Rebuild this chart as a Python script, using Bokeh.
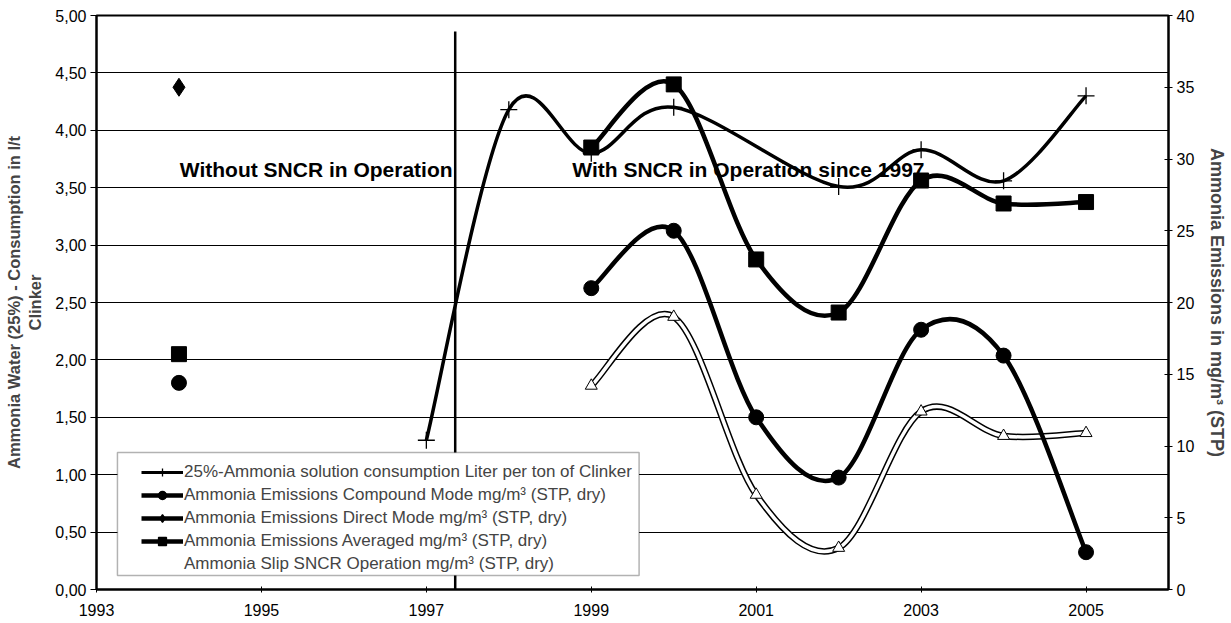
from bokeh.plotting import figure
from bokeh.models import (Range1d, LinearAxis, FixedTicker, CustomJSTickFormatter,
                          Legend, LegendItem, Label, BoxAnnotation)
from bokeh.models import ColumnDataSource
from bokeh.embed import file_html
from bokeh.resources import INLINE

# ---------------- data ----------------
years_cons = [1997, 1998, 1999, 2000, 2002, 2003, 2004, 2005]
consumption = [1.30, 4.18, 3.80, 4.20, 3.51, 3.83, 3.56, 4.30]   # l/t clinker (left axis)

years_em = [1999, 2000, 2001, 2002, 2003, 2004, 2005]
compound = [21.0, 25.0, 12.0, 7.8, 18.1, 16.3, 2.6]      # mg/m3 (right axis)
averaged = [30.8, 35.2, 23.0, 19.3, 28.5, 26.9, 27.0]
slip = [14.2, 19.0, 6.6, 2.9, 12.4, 10.7, 10.9]

years_1994 = [1994]
compound_1994 = [14.4]
direct_1994 = [35.0]
averaged_1994 = [16.4]

sncr_start = 1997.35
sncr_line_top = 4.86

left_ticks = [0, 0.5, 1, 1.5, 2, 2.5, 3, 3.5, 4, 4.5, 5]
right_ticks = [0, 5, 10, 15, 20, 25, 30, 35, 40]
x_ticks = [1993, 1995, 1997, 1999, 2001, 2003, 2005]

FONT = "Liberation Sans"


def bezier_source(xs, ys):
    """Excel-like smoothing: cubic Bezier segments with Catmull-Rom control points."""
    n = len(xs)
    d = dict(x0=[], y0=[], x1=[], y1=[], cx0=[], cy0=[], cx1=[], cy1=[])
    for i in range(n - 1):
        xp, yp = (xs[i - 1], ys[i - 1]) if i > 0 else (xs[i], ys[i])
        xn, yn = (xs[i + 2], ys[i + 2]) if i + 2 < n else (xs[i + 1], ys[i + 1])
        d["x0"].append(xs[i]); d["y0"].append(ys[i])
        d["x1"].append(xs[i + 1]); d["y1"].append(ys[i + 1])
        d["cx0"].append(xs[i] + (xs[i + 1] - xp) / 6.0)
        d["cy0"].append(ys[i] + (ys[i + 1] - yp) / 6.0)
        d["cx1"].append(xs[i + 1] - (xn - xs[i]) / 6.0)
        d["cy1"].append(ys[i + 1] - (yn - ys[i]) / 6.0)
    return ColumnDataSource(d)


BZ = ("x0", "y0", "x1", "y1", "cx0", "cy0", "cx1", "cy1")

p = figure(width=1230, height=622, x_range=Range1d(1993, 2006), y_range=Range1d(0, 5),
           output_backend="svg", toolbar_location=None,
           min_border_left=96, min_border_right=59, min_border_top=15, min_border_bottom=33)
p.extra_y_ranges = {"right": Range1d(0, 40)}

p.background_fill_color = "white"
p.border_fill_color = "white"
p.outline_line_color = "black"
p.outline_line_width = 2

# grid
p.xgrid.visible = False
p.ygrid.ticker = FixedTicker(ticks=left_ticks)
p.ygrid.grid_line_color = "black"
p.ygrid.grid_line_width = 1.2

# x axis
xa = p.xaxis[0]
xa.ticker = FixedTicker(ticks=x_ticks)
xa.axis_line_width = 2
xa.major_tick_in = 3
xa.major_tick_out = 3
xa.minor_tick_line_color = None
xa.major_label_standoff = 11
xa.major_label_text_font = FONT
xa.major_label_text_font_size = "16px"
xa.major_label_text_color = "black"

# left axis
ya = p.yaxis[0]
ya.ticker = FixedTicker(ticks=left_ticks)
ya.formatter = CustomJSTickFormatter(code="return tick.toFixed(2).replace('.', ',');")
ya.axis_line_width = 2
ya.major_tick_in = 0
ya.major_tick_out = 6
ya.minor_tick_line_color = None
ya.major_label_standoff = 4
ya.major_label_text_font = FONT
ya.major_label_text_font_size = "16px"
ya.major_label_text_color = "black"
ya.axis_label = "Ammonia Water (25%) - Consumption in l/t\nClinker"
ya.axis_label_text_font = FONT
ya.axis_label_text_font_style = "bold"
ya.axis_label_text_font_size = "16.5px"
ya.axis_label_standoff = 8

# right axis
ra = LinearAxis(y_range_name="right", ticker=FixedTicker(ticks=right_ticks))
ra.axis_line_width = 2
ra.major_tick_in = 4
ra.major_tick_out = 4
ra.minor_tick_line_color = None
ra.major_label_standoff = 4
ra.major_label_text_font = FONT
ra.major_label_text_font_size = "16px"
ra.major_label_text_color = "black"
ra.axis_label = "Ammonia Emissions in mg/m³ (STP)"
ra.axis_label_text_font = FONT
ra.axis_label_text_font_style = "bold"
ra.axis_label_text_font_size = "18px"
ra.axis_label_standoff = 10
p.add_layout(ra, "right")

# SNCR start line
p.segment(x0=[sncr_start], y0=[0], x1=[sncr_start], y1=[sncr_line_top],
          line_color="black", line_width=2.5)

# Ammonia slip (white double line)
s_slip = bezier_source(years_em, slip)
p.bezier(*BZ, source=s_slip, y_range_name="right", line_color="black", line_width=6.5)
p.bezier(*BZ, source=s_slip, y_range_name="right", line_color="white", line_width=3.5)
p.scatter(years_em, slip, y_range_name="right", marker="triangle", size=12,
          fill_color="white", line_color="black", line_width=1)

# Compound mode
p.bezier(*BZ, source=bezier_source(years_em, compound), y_range_name="right",
         line_color="black", line_width=4.5)
p.scatter(years_em, compound, y_range_name="right", marker="circle", size=15,
          fill_color="black", line_color="black")
p.scatter(years_1994, compound_1994, y_range_name="right", marker="circle", size=15,
          fill_color="black", line_color="black")

# Direct mode
p.scatter(years_1994, direct_1994, y_range_name="right", marker="diamond", size=18,
          fill_color="black", line_color="black")

# Averaged
p.bezier(*BZ, source=bezier_source(years_em, averaged), y_range_name="right",
         line_color="black", line_width=4.5)
p.scatter(years_em, averaged, y_range_name="right", marker="square", size=15,
          fill_color="black", line_color="black")
p.scatter(years_1994, averaged_1994, y_range_name="right", marker="square", size=15,
          fill_color="black", line_color="black")

# Consumption
p.bezier(*BZ, source=bezier_source(years_cons, consumption),
         line_color="black", line_width=3.5)
p.scatter(years_cons, consumption, marker="cross", size=17,
          line_color="black", line_width=1.3)

# annotations
for txt, x in [("Without SNCR in Operation", 1994.01),
               ("With SNCR in Operation since 1997", 1998.77)]:
    p.add_layout(Label(x=x, y=3.66, text=txt, text_font=FONT, text_font_style="bold",
                       text_font_size="21px", text_baseline="middle", text_color="black"))

# legend frame (white box with border)
p.add_layout(BoxAnnotation(left=1993.254, right=1999.58, top=1.193, bottom=0.122,
                           fill_color="white", fill_alpha=1.0,
                           line_color="black", line_width=1.5))


# legend samples: renderers kept outside the visible ranges
def sample(width, marker, color="black"):
    src = ColumnDataSource(dict(x=[1980, 1981], y=[-5, -5]))
    r = [p.line("x", "y", source=src, line_color=color, line_width=width)]
    if marker:
        r.append(p.scatter("x", "y", source=src, marker=marker,
                           fill_color="black", line_color="black", line_width=1.3))
    return r


items = [
    LegendItem(label="25%-Ammonia solution consumption Liter per ton of Clinker",
               renderers=sample(3, "cross")),
    LegendItem(label="Ammonia Emissions Compound Mode mg/m³ (STP, dry)",
               renderers=sample(4.5, "circle")),
    LegendItem(label="Ammonia Emissions Direct Mode mg/m³ (STP, dry)",
               renderers=sample(4.5, "diamond")),
    LegendItem(label="Ammonia Emissions Averaged mg/m³ (STP, dry)",
               renderers=sample(4.5, "square")),
    LegendItem(label="Ammonia Slip SNCR Operation mg/m³ (STP, dry)",
               renderers=sample(3, None, color="white")),
]
legend = Legend(items=items, location=(45, 15), orientation="vertical",
                border_line_color=None, background_fill_alpha=0,
                label_text_font=FONT, label_text_font_size="17px",
                glyph_width=42, glyph_height=20, label_height=20,
                spacing=3, padding=4, margin=0, label_standoff=1)
p.add_layout(legend)

open("out.html", "w").write(file_html(p, INLINE))
